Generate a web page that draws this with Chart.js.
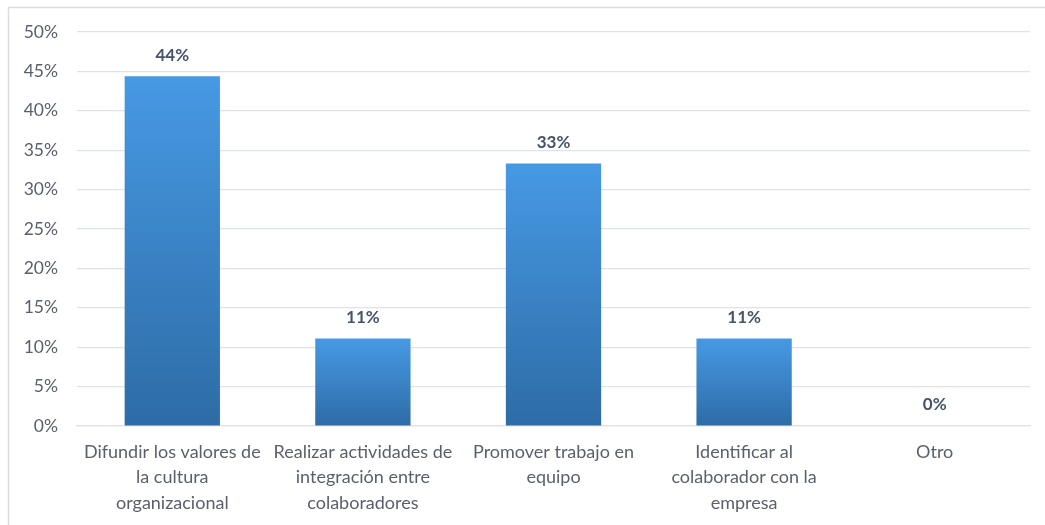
<!DOCTYPE html>
<html>
<head>
<meta charset="utf-8">
<script src="https://cdn.jsdelivr.net/npm/chart.js@4/dist/chart.umd.min.js"></script>
<style>
  html, body { margin: 0; padding: 0; background: #fff; }
  #wrap { width: 1045px; height: 525px; position: relative; }
</style>
</head>
<body>
<div id="wrap"><canvas id="chart" width="1045" height="525"></canvas></div>
<script>
// categories, split into the lines shown under each bar
const categories = [
  ["Difundir los valores de", "la cultura", "organizacional"],
  ["Realizar actividades de", "integración entre", "colaboradores"],
  ["Promover trabajo en", "equipo"],
  ["Identificar al", "colaborador con la", "empresa"],
  ["Otro"]
];
const values = [44.4, 11.1, 33.3, 11.1, 0];
const valueLabels = ["44%", "11%", "33%", "11%", "0%"];
const yTicks = [0, 5, 10, 15, 20, 25, 30, 35, 40, 45, 50];

const FONT = "Lato, 'Open Sans', sans-serif";

// light gray frame: only top and left edges show in the picture
const framePlugin = {
  id: "frame",
  beforeDraw(chart) {
    const ctx = chart.ctx;
    ctx.save();
    ctx.strokeStyle = "#d9dde3";
    ctx.lineWidth = 1.5;
    ctx.beginPath();
    ctx.moveTo(8.5, chart.height);
    ctx.lineTo(8.5, 7.5);
    ctx.lineTo(chart.width, 7.5);
    ctx.stroke();
    ctx.restore();
  }
};

// bold value labels above the bars
const valueLabelPlugin = {
  id: "valueLabels",
  afterDatasetsDraw(chart) {
    const ctx = chart.ctx;
    const meta = chart.getDatasetMeta(0);
    ctx.save();
    ctx.font = "bold 17px " + FONT;
    ctx.fillStyle = "#44546a";
    ctx.textAlign = "center";
    ctx.textBaseline = "middle";
    meta.data.forEach(function (bar, i) {
      ctx.fillText(valueLabels[i], bar.x, bar.y - 21);
    });
    ctx.restore();
  }
};

function barGradient(context) {
  const chart = context.chart;
  const area = chart.chartArea;
  if (!area) return "#4393df";
  const v = context.raw;
  const yScale = chart.scales.y;
  const top = yScale.getPixelForValue(v);
  const bottom = yScale.getPixelForValue(0);
  if (bottom - top < 1) return "#4393df";
  const g = chart.ctx.createLinearGradient(0, top, 0, bottom);
  g.addColorStop(0, "#4799e4");
  g.addColorStop(1, "#2d6ca6");
  return g;
}

const ctx = document.getElementById("chart").getContext("2d");
new Chart(ctx, {
  type: "bar",
  data: {
    labels: categories,
    datasets: [
      {
        data: values,
        backgroundColor: barGradient,
        borderWidth: 0,
        categoryPercentage: 1.0,
        barPercentage: 0.5
      }
    ]
  },
  options: {
    responsive: false,
    animation: false,
    layout: { padding: { left: 8, right: 15, top: 32, bottom: 0 } },
    plugins: {
      legend: { display: false },
      tooltip: { enabled: false }
    },
    scales: {
      y: {
        min: 0,
        max: 50,
        afterBuildTicks(axis) {
          axis.ticks = yTicks.map(function (v) { return { value: v }; });
        },
        afterFit(axis) {
          axis.width = 69;
        },
        ticks: {
          callback: function (v) { return v + "%"; },
          color: "#595f6b",
          font: { family: FONT, size: 17.5 },
          padding: 19
        },
        grid: { color: "#dfe3e8", lineWidth: 1.2, drawTicks: false },
        border: { display: false }
      },
      x: {
        afterFit(axis) {
          axis.height = 99;
          axis.paddingLeft = 0;
          axis.paddingRight = 0;
        },
        ticks: {
          color: "#595f6b",
          font: { family: FONT, size: 18, lineHeight: 1.42 },
          maxRotation: 0,
          autoSkip: false,
          padding: 13
        },
        grid: { display: false, drawTicks: false },
        border: { display: true, color: "#dfe3e8", width: 1.2 }
      }
    }
  },
  plugins: [framePlugin, valueLabelPlugin]
});
</script>
</body>
</html>
